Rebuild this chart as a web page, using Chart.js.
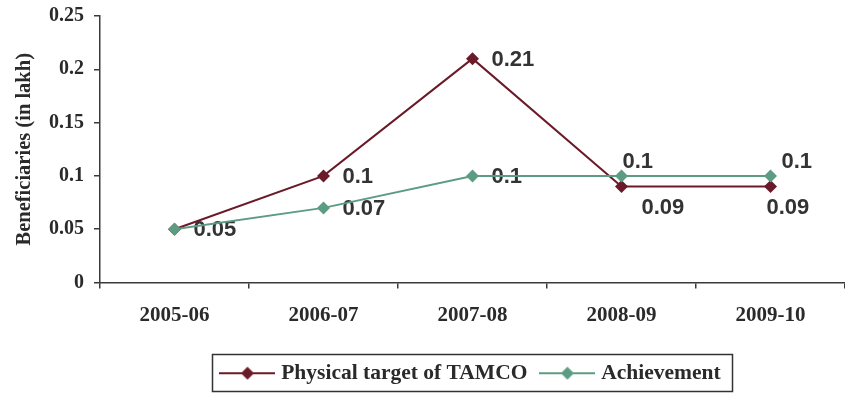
<!DOCTYPE html>
<html>
<head>
<meta charset="utf-8">
<script src="https://cdn.jsdelivr.net/npm/chart.js@4/dist/chart.umd.min.js"></script>
<style>
  html, body { margin: 0; padding: 0; background: #ffffff; }
  #wrap { width: 845px; height: 394px; position: relative; }
</style>
</head>
<body>
<div id="wrap"><canvas id="chart"></canvas></div>
<script>
// Beneficiaries of TAMCO schemes, in lakh
const years = ['2005-06', '2006-07', '2007-08', '2008-09', '2009-10'];
const physicalTarget = [0.05, 0.1, 0.21, 0.09, 0.09];
const achievement = [0.05, 0.07, 0.1, 0.1, 0.1];
const yTicks = [0, 0.05, 0.1, 0.15, 0.2, 0.25];

// Where each value label sits relative to its point (null = no label)
const targetLabelPos = [null, 'right', 'right', 'belowRight', 'below'];
const achievementLabelPos = ['right', 'right', 'right', 'above', 'aboveRight'];

const TARGET_COLOR = '#6a1a28';
const ACHIEVE_COLOR = '#5c9c82';
const AXIS_COLOR = '#3a3a3a';
const SERIF = '"Liberation Serif", "Times New Roman", serif';

// Legend symbol: short line with a diamond in the middle
function legendSymbol(color) {
  const c = document.createElement('canvas');
  c.width = 56; c.height = 14;
  const g = c.getContext('2d');
  g.strokeStyle = color; g.lineWidth = 2;
  g.beginPath(); g.moveTo(0, 7); g.lineTo(56, 7); g.stroke();
  g.fillStyle = color;
  g.beginPath(); g.moveTo(28, 0.5); g.lineTo(34.5, 7); g.lineTo(28, 13.5); g.lineTo(21.5, 7); g.closePath(); g.fill();
  return c;
}

const placements = {
  right:      { dx: 19, dy: 1 },
  belowRight: { dx: 20, dy: 21 },
  below:      { dx: -4, dy: 21 },
  above:      { dx: 1,  dy: -14 },
  aboveRight: { dx: 11, dy: -14 }
};

// Value labels go under the lines, so the lines run across them
const valueLabels = {
  id: 'valueLabels',
  beforeDatasetsDraw(chart) {
    const ctx = chart.ctx;
    ctx.save();
    ctx.font = 'bold 22px "Liberation Sans", Arial, sans-serif';
    ctx.fillStyle = '#333333';
    ctx.textAlign = 'left';
    ctx.textBaseline = 'middle';
    chart.data.datasets.forEach((ds, i) => {
      const meta = chart.getDatasetMeta(i);
      meta.data.forEach((pt, j) => {
        const key = ds.labelPos[j];
        if (!key) return;
        const p = placements[key];
        ctx.fillText(String(ds.data[j]), pt.x + p.dx, pt.y + p.dy);
      });
    });
    ctx.restore();
  }
};

// Let the plot run to the right edge of the canvas, then center the legend under it
const plotLayout = {
  id: 'plotLayout',
  afterLayout(chart) {
    const x = chart.scales.x;
    const d = chart.width - x.right;
    if (d > 0) {
      x.right += d;
      x.width += d;
      x.configure();
      chart.chartArea.right += d;
      chart.chartArea.width += d;
    }
    const lg = chart.legend;
    if (!lg) return;
    const shift = (chart.chartArea.left + chart.chartArea.right) / 2 - (lg.left + lg.right) / 2;
    lg.left += shift;
    lg.right += shift;
  }
};

// Frame around the legend items
const legendFrame = {
  id: 'legendFrame',
  afterDraw(chart) {
    const boxes = chart.legend && chart.legend.legendHitBoxes;
    if (!boxes || !boxes.length) return;
    let l = Infinity, r = -Infinity, t = Infinity, b = -Infinity;
    boxes.forEach(h => {
      l = Math.min(l, h.left); r = Math.max(r, h.left + h.width);
      t = Math.min(t, h.top); b = Math.max(b, h.top + h.height);
    });
    const cy = (t + b) / 2;
    const ctx = chart.ctx;
    ctx.save();
    ctx.strokeStyle = '#333';
    ctx.lineWidth = 1.5;
    ctx.strokeRect(Math.round(l - 12) + 0.5, Math.round(cy - 19) + 0.5, Math.round(r - l + 24), 37);
    ctx.restore();
  }
};

new Chart(document.getElementById('chart'), {
  type: 'line',
  data: {
    labels: years,
    datasets: [
      {
        label: 'Physical target of TAMCO',
        data: physicalTarget,
        labelPos: targetLabelPos,
        order: 2,
        borderColor: TARGET_COLOR,
        backgroundColor: TARGET_COLOR,
        borderWidth: 2,
        pointStyle: 'rectRot',
        pointRadius: 6.5,
        pointBorderWidth: 0,
        tension: 0,
        symbol: legendSymbol(TARGET_COLOR)
      },
      {
        label: 'Achievement',
        data: achievement,
        labelPos: achievementLabelPos,
        order: 1,
        borderColor: ACHIEVE_COLOR,
        backgroundColor: ACHIEVE_COLOR,
        borderWidth: 2,
        pointStyle: 'rectRot',
        pointRadius: 6.5,
        pointBorderWidth: 0,
        tension: 0,
        symbol: legendSymbol(ACHIEVE_COLOR)
      }
    ]
  },
  options: {
    responsive: true,
    maintainAspectRatio: false,
    animation: false,
    layout: { padding: { top: 16, right: 0, left: 4, bottom: 0 } },
    plugins: {
      tooltip: { enabled: false },
      legend: {
        position: 'bottom',
        labels: {
          usePointStyle: true,
          pointStyleWidth: 46,
          boxHeight: 14,
          padding: 17,
          color: '#2a2a2a',
          font: { family: SERIF, size: 21.5, weight: 'bold' },
          generateLabels(chart) {
            return chart.data.datasets.map((ds, i) => ({
              text: ds.label,
              pointStyle: ds.symbol,
              fillStyle: ds.borderColor,
              strokeStyle: ds.borderColor,
              lineWidth: 0,
              hidden: false,
              datasetIndex: i,
              fontColor: '#2a2a2a'
            }));
          }
        }
      }
    },
    scales: {
      x: {
        offset: true,
        grid: { display: true, offset: true, drawOnChartArea: false, drawTicks: true, tickLength: 6, color: AXIS_COLOR, lineWidth: 1.5 },
        border: { display: true, color: AXIS_COLOR, width: 1.5 },
        ticks: { color: '#2a2a2a', padding: 14, maxRotation: 0, font: { family: SERIF, size: 21, weight: 'bold' } },
        afterFit(scale) { scale.height = 63; scale.paddingLeft = 0; scale.paddingRight = 0; }
      },
      y: {
        min: 0,
        max: 0.25,
        afterBuildTicks(scale) { scale.ticks = yTicks.map(v => ({ value: v })); },
        grid: { display: true, drawOnChartArea: false, drawTicks: true, tickLength: 6, color: AXIS_COLOR, lineWidth: 1.5 },
        border: { display: true, color: AXIS_COLOR, width: 1.5 },
        ticks: {
          color: '#2a2a2a',
          padding: 10,
          font: { family: SERIF, size: 20, weight: 'bold' },
          callback: (v) => String(v)
        },
        title: {
          display: true,
          text: 'Beneficiaries (in lakh)',
          color: '#2a2a2a',
          padding: { top: 8, bottom: 4 },
          font: { family: SERIF, size: 20.5, weight: 'bold' }
        },
        afterFit(scale) { scale.width = 96; scale.paddingTop = 0; scale.paddingBottom = 0; }
      }
    }
  },
  plugins: [valueLabels, plotLayout, legendFrame]
});
</script>
</body>
</html>
